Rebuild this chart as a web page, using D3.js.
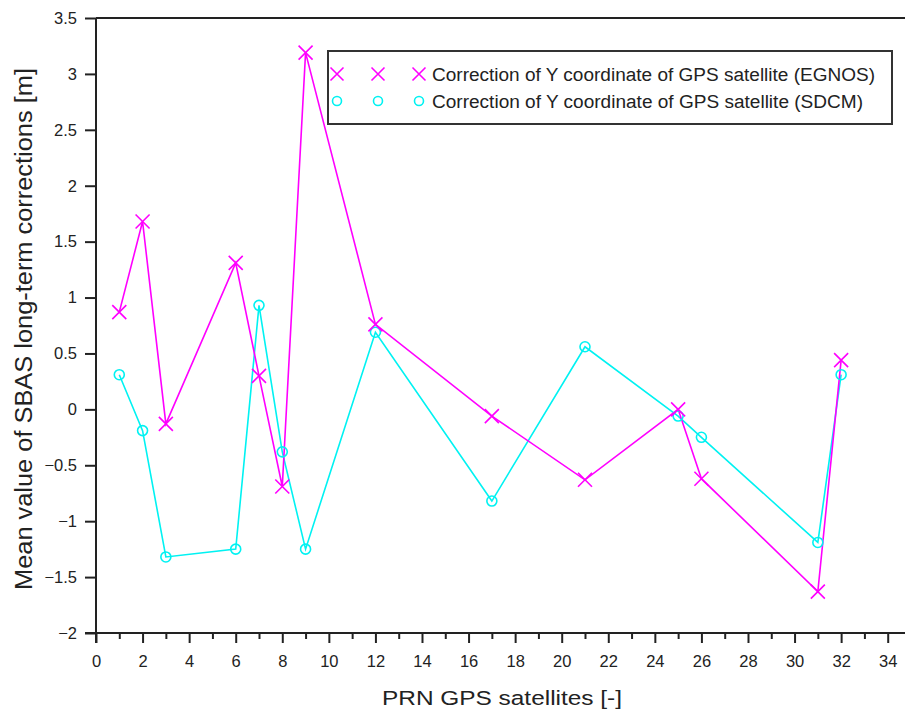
<!DOCTYPE html>
<html>
<head>
<meta charset="utf-8">
<script src="https://cdn.jsdelivr.net/npm/d3@7"></script>
<style>
  body { margin: 0; background: #fff; }
  svg text { font-family: "Liberation Sans", Arial, sans-serif; fill: #222; }
</style>
</head>
<body>
<div id="chart"></div>
<script>
// PRN numbers of the satellites
var prn = [1, 2, 3, 6, 7, 8, 9, 12, 17, 21, 25, 26, 31, 32];
// mean Y correction, EGNOS
var egnos = [0.87, 1.68, -0.13, 1.31, 0.30, -0.69, 3.19, 0.76, -0.06, -0.63, 0.0, -0.62, -1.63, 0.44];
// mean Y correction, SDCM
var sdcm = [0.31, -0.19, -1.32, -1.25, 0.93, -0.38, -1.25, 0.69, -0.82, 0.56, -0.06, -0.25, -1.19, 0.31];

var xTicks = d3.range(0, 35, 2);
var xMinor = d3.range(1, 35, 2);
var yTicks = [-2, -1.5, -1, -0.5, 0, 0.5, 1, 1.5, 2, 2.5, 3, 3.5];

var legendLabels = [
    "Correction of Y coordinate of GPS satellite (EGNOS)",
    "Correction of Y coordinate of GPS satellite (SDCM)"
];

var width = 905, height = 713;
var x0 = 96, y0 = 18, yBottom = 633;
var unit = (887.7 - x0) / 34;

var svg = d3.select("#chart").append("svg")
    .attr("width", width)
    .attr("height", height);

var x = d3.scaleLinear().domain([0, 35]).range([x0, x0 + 35 * unit]);
var y = d3.scaleLinear().domain([-2, 3.5]).range([yBottom, y0]);

var axisColor = "#222";

// top frame line
svg.append("line")
    .attr("x1", x0).attr("x2", width)
    .attr("y1", y(3.5)).attr("y2", y(3.5))
    .attr("stroke", axisColor).attr("stroke-width", 2);

// x axis
svg.append("g")
    .attr("transform", "translate(0," + yBottom + ")")
    .call(d3.axisBottom(x).tickValues(xTicks).tickSize(10).tickPadding(12).tickFormat(d3.format("d")));
svg.append("g")
    .attr("transform", "translate(0," + yBottom + ")")
    .call(d3.axisBottom(x).tickValues(xMinor).tickSize(6).tickFormat(""));

// y axis
svg.append("g")
    .attr("transform", "translate(" + x0 + ",0)")
    .call(d3.axisLeft(y).tickValues(yTicks).tickSize(11).tickPadding(8).tickFormat(function (d) { return d3.format("")(d); }));

svg.selectAll(".domain").remove();
svg.selectAll(".tick line").attr("stroke", axisColor).attr("stroke-width", 2);
svg.selectAll(".tick text").style("font-size", "16.5px").attr("fill", "#222");

// axis lines drawn across the full width
svg.append("line")
    .attr("x1", x0 - 11).attr("x2", width)
    .attr("y1", yBottom).attr("y2", yBottom)
    .attr("stroke", axisColor).attr("stroke-width", 2);
svg.append("line")
    .attr("x1", x0).attr("x2", x0)
    .attr("y1", y0).attr("y2", yBottom + 10)
    .attr("stroke", axisColor).attr("stroke-width", 2);

// axis titles
svg.append("text")
    .attr("x", 382).attr("y", 705)
    .attr("textLength", 240)
    .attr("lengthAdjust", "spacingAndGlyphs")
    .style("font-size", "20.5px")
    .text("PRN GPS satellites [-]");

svg.append("text")
    .attr("transform", "translate(31.5,590) rotate(-90)")
    .attr("textLength", 522)
    .attr("lengthAdjust", "spacingAndGlyphs")
    .style("font-size", "23px")
    .text("Mean value of SBAS long-term corrections [m]");

var magenta = "#ff00ff", cyan = "#00f2f2";

var line = d3.line()
    .x(function (d) { return x(d[0]); })
    .y(function (d) { return y(d[1]); });

var egnosData = prn.map(function (p, i) { return [p, egnos[i]]; });
var sdcmData = prn.map(function (p, i) { return [p, sdcm[i]]; });

var plot = svg.append("g");

plot.append("path")
    .datum(sdcmData)
    .attr("d", line)
    .attr("fill", "none")
    .attr("stroke", cyan)
    .attr("stroke-width", 1.6);

plot.append("path")
    .datum(egnosData)
    .attr("d", line)
    .attr("fill", "none")
    .attr("stroke", magenta)
    .attr("stroke-width", 1.6);

function crossPath(cx, cy, r) {
    return "M" + (cx - r) + "," + (cy - r) + "L" + (cx + r) + "," + (cy + r) +
        "M" + (cx - r) + "," + (cy + r) + "L" + (cx + r) + "," + (cy - r);
}

plot.selectAll(".circ")
    .data(sdcmData)
    .enter().append("circle")
    .attr("cx", function (d) { return x(d[0]); })
    .attr("cy", function (d) { return y(d[1]); })
    .attr("r", 5)
    .attr("fill", "none")
    .attr("stroke", cyan)
    .attr("stroke-width", 1.6);

plot.selectAll(".cross")
    .data(egnosData)
    .enter().append("path")
    .attr("d", function (d) { return crossPath(x(d[0]), y(d[1]), 7); })
    .attr("fill", "none")
    .attr("stroke", magenta)
    .attr("stroke-width", 1.6);

// legend
var lx = 328, ly = 51, lw = 564, lh = 73;
var legend = svg.append("g");
legend.append("rect")
    .attr("x", lx).attr("y", ly)
    .attr("width", lw).attr("height", lh)
    .attr("fill", "#fff")
    .attr("stroke", "#333")
    .attr("stroke-width", 2);

var markX = [337, 378, 419];
var rows = [74, 101];

markX.forEach(function (mx) {
    legend.append("path")
        .attr("d", crossPath(mx, rows[0], 6.5))
        .attr("stroke", magenta).attr("stroke-width", 1.6).attr("fill", "none");
    legend.append("circle")
        .attr("cx", mx).attr("cy", rows[1]).attr("r", 4.5)
        .attr("stroke", cyan).attr("stroke-width", 1.6).attr("fill", "none");
});

var textLens = [443, 431];
legend.selectAll(".ltext")
    .data(legendLabels)
    .enter().append("text")
    .attr("x", 432)
    .attr("y", function (d, i) { return rows[i] + 6.5; })
    .attr("textLength", function (d, i) { return textLens[i]; })
    .attr("lengthAdjust", "spacingAndGlyphs")
    .style("font-size", "18px")
    .text(function (d) { return d; });
</script>
</body>
</html>
